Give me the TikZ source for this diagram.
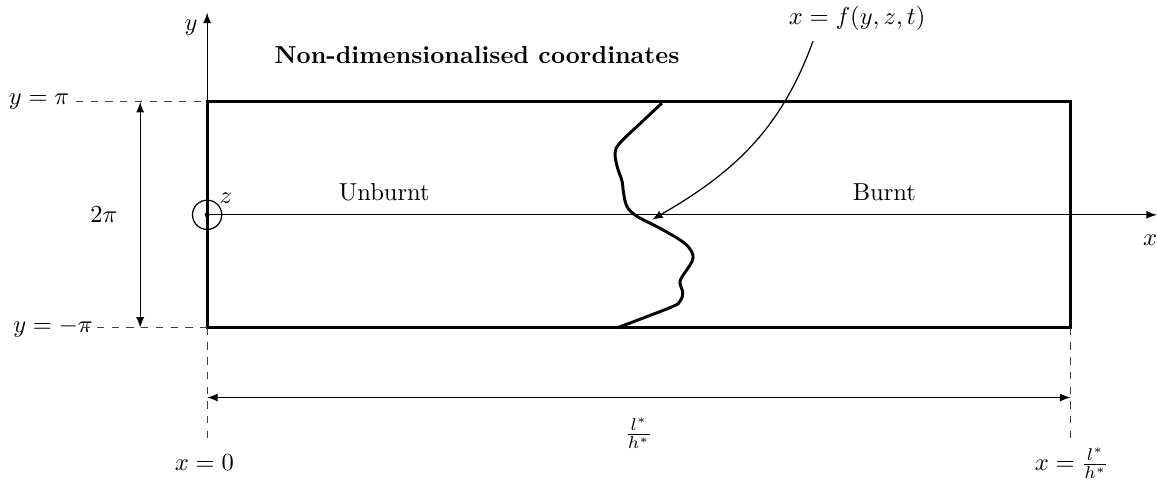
\documentclass[tikz,border=0pt]{standalone}
\usepackage{amsmath}
\usepackage{amssymb}
\usetikzlibrary{arrows.meta,positioning,calc}

\begin{document}
\begin{tikzpicture}[x=1cm,y=1cm,>=latex,
  wall/.style={line width=1.2pt},
  guide/.style={dashed,black!75,line width=0.5pt},
  dim/.style={<->,line width=0.5pt}]
  \useasboundingbox (-2.97,-3.81) rectangle (13.62,3.08);
  % dominio
  \coordinate (O) at (0,0);
  \coordinate (tl) at (0,1.62);
  \coordinate (tr) at (12.38,1.62);
  \coordinate (br) at (12.38,-1.62);
  \coordinate (bl) at (0,-1.62);
  \draw[wall] (bl) rectangle (tr);
  % assi
  \coordinate (xend) at (13.62,0);
  \coordinate (yend) at (0,2.90);
  \draw[->,line width=0.5pt] (O) -- (xend);
  \draw[->,line width=0.5pt] (O) -- (yend);
  \node (xlab) at (13.52,-0.36) {$x$};
  \node (ylab) at (-0.23,2.68) {$y$};
  \draw[line width=0.5pt] (O) circle (0.21);
  \fill (O) circle (0.035);
  \node (zlab) at (0.27,0.24) {$z$};
  % quote in y
  \node (ytop) at (-2.41,1.62) {$y=\pi$};
  \node (ybot) at (-2.21,-1.62) {$y=-\pi$};
  \coordinate (ytopstart) at (-1.88,1.62);
  \coordinate (ybotstart) at (-1.79,-1.62);
  \draw[guide] (ytopstart) -- (tl);
  \draw[guide] (ybotstart) -- (bl);
  \coordinate (htop) at (-0.96,1.62);
  \coordinate (hbot) at (-0.96,-1.62);
  \draw[dim] (hbot) -- (htop);
  \node (twopi) at (-1.48,0) {$2\pi$};
  % quote in x
  \coordinate (xzero) at (0,-3.27);
  \coordinate (xend2) at (12.38,-3.27);
  \draw[guide] (bl) -- (xzero);
  \draw[guide] (br) -- (xend2);
  \coordinate (lleft) at (0,-2.62);
  \coordinate (lright) at (12.38,-2.62);
  \draw[dim] (lleft) -- (lright);
  \node (llab) at (6.19,-3.13) {$\frac{l^*}{h^*}$};
  \node (xzlab) at (-0.04,-3.56) {$x=0$};
  \node (xllab) at (12.40,-3.56) {$x=\frac{l^*}{h^*}$};
  % testi
  \node (title) at (3.87,2.29) {\textbf{Non-dimensionalised coordinates}};
  \node (unburnt) at (2.54,0.32) {Unburnt};
  \node (burnt) at (9.71,0.33) {Burnt};
  % fronte di fiamma
  \draw[wall] plot[smooth,tension=0.6] coordinates {
    (6.52,1.60) (6.21,1.31) (5.92,1.03) (5.85,0.89) (5.88,0.69)
    (5.95,0.48) (5.97,0.32) (6.02,0.12) (6.16,-0.02) (6.45,-0.17)
    (6.78,-0.36) (6.93,-0.50) (6.96,-0.65) (6.81,-0.89) (6.78,-0.98)
    (6.82,-1.12) (6.78,-1.24) (6.64,-1.33) (5.88,-1.62)};
  \node (flab) at (9.32,2.81) {$x=f(y,z,t)$};
  \coordinate (fstart) at ($(flab.south west)+(0.47,-0.02)$);
  \coordinate (ftip) at (6.38,-0.07);
  \draw[->,line width=0.5pt] (fstart) to[out=-110,in=30] (ftip);
\end{tikzpicture}
\end{document}
